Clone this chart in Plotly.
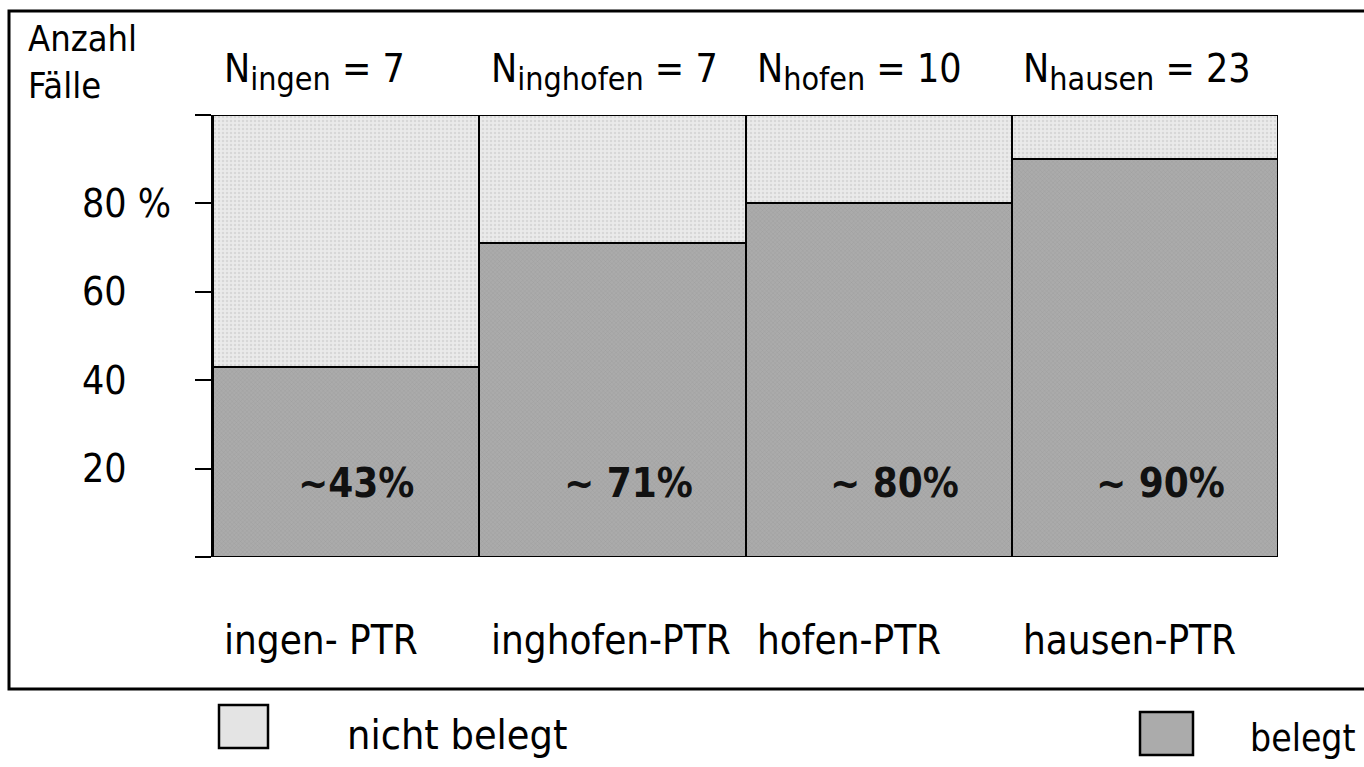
import plotly.graph_objects as go

categories = ["ingen", "inghofen", "hofen", "hausen"]
category_labels = ["ingen- PTR", "inghofen-PTR", "hofen-PTR", "hausen-PTR"]
n_counts = [7, 7, 10, 23]
belegt = [43, 71, 80, 90]
nicht_belegt = [100 - v for v in belegt]
value_labels = ["∼43%", "∼ 71%", "∼ 80%", "∼ 90%"]
y_ticks = [20, 40, 60, 80]
y_tick_text = ["20", "40", "60", "80 %"]

FONT = "DejaVu Sans Condensed, Liberation Sans Narrow, sans-serif"
W, H = 1364, 767
L, R, T, B = 213, 1278, 115, 557
DARK = "#ababab"
LIGHT = "#e4e4e4"


def px(x):
    return (x - L) / (R - L)


def py(y):
    return (B - y) / (B - T)


fig = go.Figure()
fig.add_trace(go.Bar(
    x=categories, y=belegt, name="belegt", width=1,
    marker=dict(color=DARK, line=dict(color="black", width=2),
                pattern=dict(shape="x", fgcolor="#8a8a8a", bgcolor=DARK, size=3, solidity=0.25)),
    showlegend=False,
))
fig.add_trace(go.Bar(
    x=categories, y=nicht_belegt, name="nicht belegt", width=1,
    marker=dict(color=LIGHT, line=dict(color="black", width=2),
                pattern=dict(shape=".", fgcolor="#c4c4c4", bgcolor="#eaeaea", size=4, solidity=0.3)),
    showlegend=False,
))

ann = []
# value labels inside bars
for i, t in enumerate(value_labels):
    ann.append(dict(x=i - 0.19, y=16.7, xref="x", yref="y", text=f"<b>{t}</b>", showarrow=False,
                    xanchor="left", yanchor="middle",
                    font=dict(size=40, color="#111", family=FONT)))
# category labels under bars
for i, t in enumerate(category_labels):
    ann.append(dict(x=i - 0.465, y=py(640), xref="x", yref="paper", text=t, showarrow=False,
                    xanchor="left", yanchor="middle", font=dict(size=40, color="black", family=FONT)))
# N labels above
for i, (c, n) in enumerate(zip(categories, n_counts)):
    ann.append(dict(x=i - 0.465, y=py(72), xref="x", yref="paper",
                    text=f"N<sub><span style='font-size:32px'>{c}</span></sub> = {n}", showarrow=False,
                    xanchor="left", yanchor="middle", font=dict(size=39, color="black", family=FONT)))
# y tick labels (left aligned)
for v, t in zip(y_ticks, y_tick_text):
    ann.append(dict(x=px(80), y=v, xref="paper", yref="y", text=t, showarrow=False,
                    xanchor="left", yanchor="middle", font=dict(size=39, color="black", family=FONT)))
# axis title
ann.append(dict(x=px(26), y=py(62), xref="paper", yref="paper", text="Anzahl<br>Fälle",
                showarrow=False, xanchor="left", yanchor="middle", align="left",
                font=dict(size=36, color="black", family=FONT)))
# legend texts
ann.append(dict(x=px(345), y=py(735), xref="paper", yref="paper", text="nicht belegt",
                showarrow=False, xanchor="left", yanchor="middle",
                font=dict(size=41, color="black", family=FONT)))
ann.append(dict(x=px(1248), y=py(738), xref="paper", yref="paper", text="belegt",
                showarrow=False, xanchor="left", yanchor="middle",
                font=dict(size=37, color="black", family=FONT)))

shapes = [
    # outer frame
    dict(type="rect", xref="paper", yref="paper", x0=px(9), x1=px(1380), y0=py(11), y1=py(689),
         line=dict(color="black", width=3), layer="below"),
    # legend boxes
    dict(type="rect", xref="paper", yref="paper", x0=px(219), x1=px(268), y0=py(705), y1=py(748),
         line=dict(color="black", width=2.5), fillcolor=LIGHT),
    dict(type="rect", xref="paper", yref="paper", x0=px(1140), x1=px(1193), y0=py(712), y1=py(755),
         line=dict(color="black", width=2.5), fillcolor=DARK),
]

fig.update_layout(
    width=W, height=H,
    margin=dict(l=L, r=W - R, t=T, b=H - B),
    paper_bgcolor="white", plot_bgcolor="white",
    barmode="stack", bargap=0,
    annotations=ann, shapes=shapes,
    font=dict(family=FONT, color="black"),
    xaxis=dict(range=[-0.5, 3.5], showticklabels=False, ticks="", showgrid=False, zeroline=False,
               showline=False, fixedrange=True),
    yaxis=dict(range=[0, 100], tickvals=[0, 20, 40, 60, 80, 100], showticklabels=False,
               ticks="outside", ticklen=16, tickwidth=2, tickcolor="black",
               showgrid=False, zeroline=False, showline=True, linecolor="black", linewidth=2,
               fixedrange=True),
)

fig.write_html("out.html", config={"displayModeBar": False},
               post_script="document.body.style.margin='0';document.body.style.overflow='hidden';")
